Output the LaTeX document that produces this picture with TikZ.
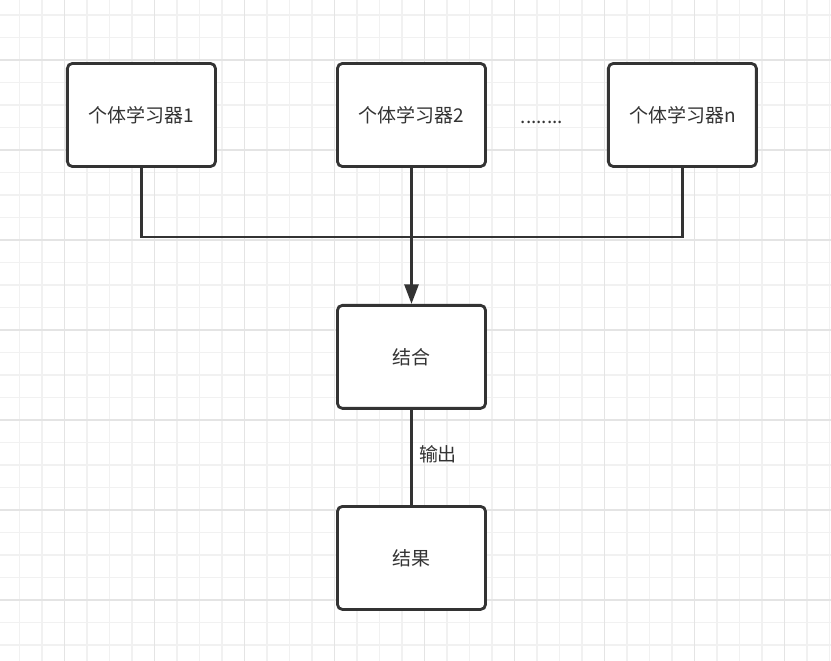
\documentclass[tikz,border=0pt]{standalone}
\usepackage{fontspec}
\setmainfont{Noto Sans CJK SC}
\usetikzlibrary{positioning, arrows.meta, calc}

\definecolor{gridlight}{RGB}{241,241,241}
\definecolor{gridheavy}{RGB}{228,228,228}
\definecolor{inkgray}{RGB}{51,51,51}

\begin{document}
\begin{tikzpicture}[
	x=0.025cm, y=-0.025cm,
	node distance=2.98cm,
	% --- Styles ---
	learnerbox/.style={
		rectangle, draw=inkgray, line width=2pt, rounded corners=3.5pt, fill=white,
		minimum width=3.7cm, minimum height=2.575cm, align=center,
		text=inkgray, font=\fontsize{13.5}{16}\selectfont
	},
	line/.style={
		draw=inkgray, line width=2pt
	},
	arrowline/.style={
		line, -{Triangle[length=14pt, width=10pt]}
	},
	edgelabel/.style={
		text=inkgray, font=\fontsize{13.5}{16}\selectfont
	}
	]
	
	% --- Canvas and grid ---
	\useasboundingbox (0,0) rectangle (831,661);
	\fill[white] (0,0) rectangle (831,661);
	\foreach \gx in {19.5,42,...,830} {
		\draw[gridlight, line width=1pt] (\gx,0) -- (\gx,661);
	}
	\foreach \gy in {15,37.5,...,660} {
		\draw[gridlight, line width=1pt] (0,\gy) -- (831,\gy);
	}
	\foreach \gx in {64.5,154.5,...,790} {
		\draw[gridheavy, line width=1pt] (\gx,0) -- (\gx,661);
	}
	\foreach \gy in {60,150,...,610} {
		\draw[gridheavy, line width=1pt] (0,\gy) -- (831,\gy);
	}
	
	% --- 1. Individual learners ---
	\node [learnerbox] (learner2) at (411.5,115) {个体学习器2};
	\node [learnerbox, left=of learner2] (learner1) {个体学习器1};
	\node [learnerbox, right=3.0cm of learner2] (learnern) {个体学习器n};
	\node [edgelabel, xshift=-0.125cm, yshift=-0.175cm] (dots) at ($(learner2)!0.5!(learnern)$) {........};
	
	% --- 2. Combination and result ---
	\node [learnerbox, below=3.4cm of learner2] (combine) {结合};
	\node [learnerbox, below=2.38cm of combine] (result) {结果};
	
	% --- Connections ---
	\coordinate (bus) at (411.5,237);
	\draw [line] (learner1.south) -- (learner1.south |- bus) -- (learnern.south |- bus) -- (learnern.south);
	\draw [arrowline] (learner2.south) -- (combine.north);
	\draw [line] (combine.south) -- node[edgelabel, right, xshift=1pt, yshift=2pt] {输出} (result.north);
	
\end{tikzpicture}
\end{document}
